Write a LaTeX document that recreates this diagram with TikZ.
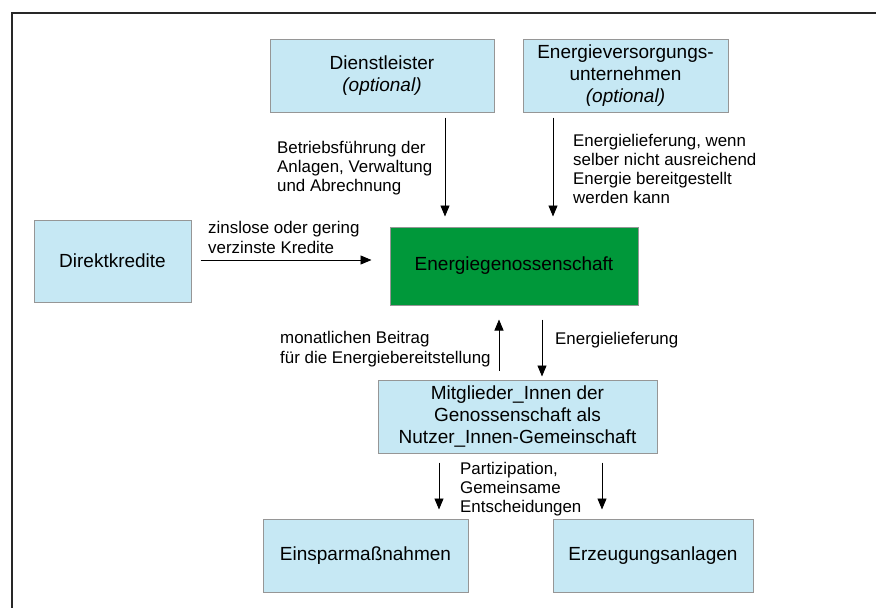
\documentclass[tikz,border=0pt]{standalone}
\usepackage{fontspec}
\setmainfont{Liberation Sans}
\usetikzlibrary{arrows.meta}
\definecolor{boxblue}{RGB}{198,232,244}
\definecolor{boxline}{RGB}{150,150,150}
\definecolor{eggreen}{RGB}{0,152,58}
\definecolor{framegray}{RGB}{40,40,40}
\tikzset{
  box/.style={draw=boxline, line width=1pt, fill=boxblue, rectangle, align=center,
    inner sep=0pt, font=\fontsize{19}{21.7}\selectfont},
  lbl/.style={anchor=west, align=left, inner sep=0pt, font=\fontsize{16.9}{19.3}\selectfont},
  flow/.style={draw=black, line width=0.9pt, -{Triangle[length=11pt,width=9pt]}}
}
\begin{document}
\begin{tikzpicture}[x=1pt,y=-1pt]
\useasboundingbox (0,0) rectangle (876,608);
\fill[white] (0,0) rectangle (876,608);
\draw[framegray, line width=2pt] (876,13) -- (12,13) -- (12,608);

\node[box, minimum width=224pt, minimum height=73pt] (dl) at (382,75.5) {Dienstleister\\\textit{(optional)}};
\node[box, minimum width=205pt, minimum height=73pt] (evu) at (625.5,75.5) {Energieversorgungs-\\unternehmen\\\textit{(optional)}};
\node[box, minimum width=157pt, minimum height=82pt] (dk) at (112.5,261) {Direktkredite};
\node[box, fill=eggreen, minimum width=248pt, minimum height=78pt] (eg) at (514,266) {Energiegenossenschaft};
\node[box, minimum width=279pt, minimum height=73pt] (mg) at (517.5,416.5) {Mitglieder\_Innen der\\Genossenschaft als\\Nutzer\_Innen-Gemeinschaft};
\node[box, minimum width=205pt, minimum height=73pt] (es) at (365.5,555.5) {Einsparmaßnahmen};
\node[box, minimum width=200pt, minimum height=73pt] (ez) at (653,555.5) {Erzeugungsanlagen};

\coordinate (xa) at (445,0);
\coordinate (xb) at (553,0);
\coordinate (yc) at (0,260);
\coordinate (xd) at (499,0);
\coordinate (xe) at (542,0);
\coordinate (xf) at (439,0);
\coordinate (xg) at (602,0);

\draw[flow, shorten <=5pt, shorten >=10pt] (dl.south -| xa) -- (eg.north -| xa);
\draw[flow, shorten <=5pt, shorten >=10pt] (evu.south -| xb) -- (eg.north -| xb);
\draw[flow, shorten <=9pt, shorten >=18pt] (dk.east |- yc) -- (eg.west |- yc);
\draw[flow, shorten <=9pt, shorten >=14pt] (mg.north -| xd) -- (eg.south -| xd);
\draw[flow, shorten <=14pt, shorten >=3pt] (eg.south -| xe) -- (mg.north -| xe);
\draw[flow, shorten <=9pt, shorten >=9pt] (mg.south -| xf) -- (es.north -| xf);
\draw[flow, shorten <=9pt, shorten >=9pt] (mg.south -| xg) -- (ez.north -| xg);

\node[lbl] (l1) at (277,168) {Betriebsführung der\\Anlagen, Verwaltung\\und Abrechnung};
\node[lbl] (l2) at (573,169) {Energielieferung, wenn\\selber nicht ausreichend\\Energie bereitgestellt\\werden kann};
\node[lbl] (l3) at (208,237.5) {zinslose oder gering\\verzinste Kredite};
\node[lbl] (l4) at (280,349) {monatlichen Beitrag\\für die Energiebereitstellung};
\node[lbl] (l5) at (555,340) {Energielieferung};
\node[lbl] (l6) at (460,489) {Partizipation,\\Gemeinsame\\Entscheidungen};
\end{tikzpicture}
\end{document}
